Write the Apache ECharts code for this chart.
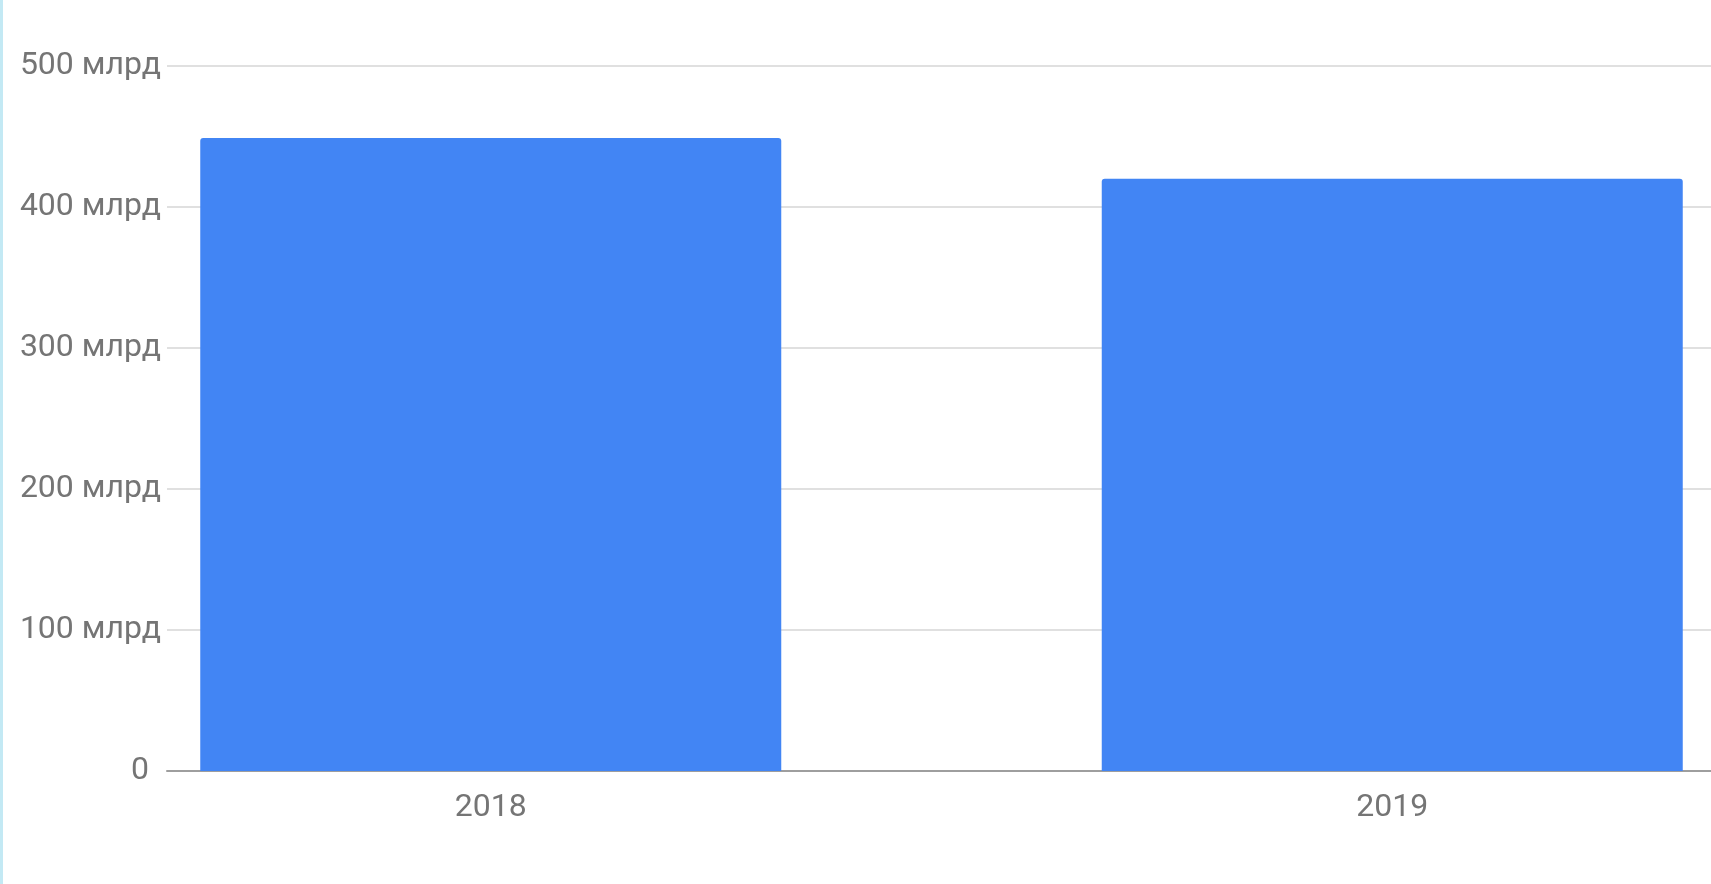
<!DOCTYPE html>
<html>
<head>
<meta charset="utf-8">
<script src="https://cdn.jsdelivr.net/npm/echarts@6/dist/echarts.min.js"></script>
<style>
html,body{margin:0;padding:0;background:#fff;overflow:hidden;width:1711px;height:884px;}
#chart{width:1900px;height:884px;}
#edge{position:absolute;left:0;top:0;width:3px;height:884px;background:#c3e9f4;}
</style>
</head>
<body>
<div id="chart"></div>
<div id="edge"></div>
<script>
const categories = ['2018', '2019'];
const values = [449, 420];           // млрд
const yTicks = [0, 100, 200, 300, 400, 500];

const chart = echarts.init(document.getElementById('chart'), null, {renderer: 'canvas'});
const fontFamily = 'Roboto';
const labelColor = '#757575';

chart.setOption({
  animation: false,
  grid: [
    {left: 167, right: 189, top: 66, bottom: 113, containLabel: false},
    {left: 40, width: 1803, top: 66, bottom: 113, containLabel: false}
  ],
  xAxis: [
    {
      gridIndex: 0, type: 'category', data: categories,
      axisLabel: {show: false}, axisTick: {show: false},
      axisLine: {show: true, lineStyle: {color: '#9e9e9e', width: 2}}
    },
    {
      gridIndex: 1, type: 'category', data: categories,
      axisTick: {show: false}, axisLine: {show: false},
      axisLabel: {color: labelColor, fontFamily, fontSize: 32, margin: 21}
    }
  ],
  yAxis: [
    {
      gridIndex: 0, type: 'value',
      min: yTicks[0], max: yTicks[yTicks.length - 1], interval: 100,
      axisLine: {show: false}, axisTick: {show: false},
      splitLine: {lineStyle: {color: '#e0e0e0', width: 2}},
      axisLabel: {
        color: labelColor, fontFamily, fontSize: 32, margin: 6,
        formatter: v => v === 0 ? '{z|0}' : v + ' млрд',
        rich: {z: {color: labelColor, fontFamily, fontSize: 32, padding: [0, 12, 0, 0]}}
      }
    },
    {
      gridIndex: 1, type: 'value',
      min: yTicks[0], max: yTicks[yTicks.length - 1], interval: 100,
      show: false, splitLine: {show: false}
    }
  ],
  series: [{
    type: 'bar',
    xAxisIndex: 1, yAxisIndex: 1,
    data: values,
    barWidth: 581,
    itemStyle: {color: '#4285f4', borderRadius: [3, 3, 0, 0]}
  }]
});
</script>
</body>
</html>
